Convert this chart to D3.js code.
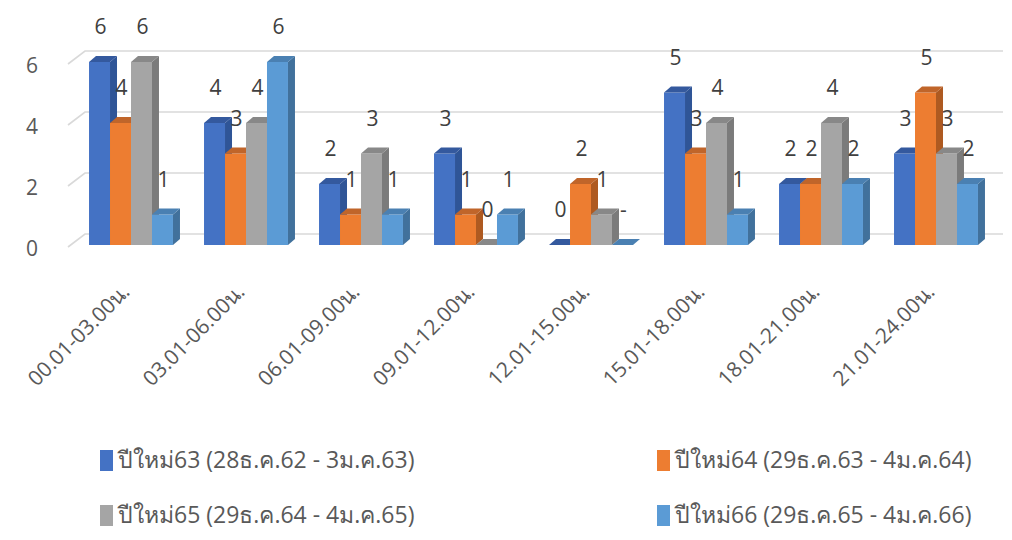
<!DOCTYPE html>
<html>
<head>
<meta charset="utf-8">
<script src="https://cdn.jsdelivr.net/npm/d3@7"></script>
<style>
  html, body { margin: 0; padding: 0; background: #ffffff; }
  svg { display: block; }
  text { font-family: "Open Sans", "Noto Sans", "DejaVu Sans", sans-serif; }
</style>
</head>
<body>
<svg id="chart" width="1012" height="540"></svg>
<script>
// Time-of-day slots
const categories = ["00.01-03.00น.", "03.01-06.00น.", "06.01-09.00น.", "09.01-12.00น.",
                    "12.01-15.00น.", "15.01-18.00น.", "18.01-21.00น.", "21.01-24.00น."];

// Series names (New Year holiday periods)
const seriesNames = ["ปีใหม่63 (28ธ.ค.62 - 3ม.ค.63)", "ปีใหม่64 (29ธ.ค.63 - 4ม.ค.64)",
                     "ปีใหม่65 (29ธ.ค.64 - 4ม.ค.65)", "ปีใหม่66 (29ธ.ค.65 - 4ม.ค.66)"];

// Counts per slot for each period (null = no record, shown as "-")
const year63 = [6, 4, 2, 3, 0, 5, 2, 3];
const year64 = [4, 3, 1, 1, 2, 3, 2, 5];
const year65 = [6, 4, 3, 0, 1, 4, 4, 3];
const year66 = [1, 6, 1, 1, null, 1, 2, 2];

const yTicks = [0, 2, 4, 6];

const seriesValues = [year63, year64, year65, year66];
const frontColors = ["#4472C4", "#ED7D31", "#A5A5A5", "#5B9BD5"];
const sideColors  = ["#2F5597", "#AE5A21", "#7B7B7B", "#41719C"];
const topColors   = ["#34599E", "#C0652A", "#888888", "#4A80B2"];

const svg = d3.select("#chart");

// Front-plane value scale
const y = d3.scaleLinear().domain([0, 6]).range([245, 62]);

// Category bands and bars within a band
const x = d3.scaleBand().domain(categories).range([73.5, 993.5])
  .paddingInner(0.27).paddingOuter(0.135);
const xs = d3.scaleBand().domain(d3.range(seriesNames.length)).range([0, x.bandwidth()]);

// depth of the 3D bars
const dx = 7, dy = -6;
// back wall offset for gridlines
const wallX0 = 68, wallX1 = 85, wallEnd = 1003, wallDy = -11;

// Gridlines on the back wall with a short floor diagonal on the left
const grid = svg.append("g");
yTicks.forEach(t => {
  const yf = y(t);
  grid.append("polyline")
    .attr("points", `${wallX0},${yf + 2} ${wallX1},${yf + wallDy} ${wallEnd},${yf + wallDy}`)
    .attr("fill", "none")
    .attr("stroke", "#d9d9d9")
    .attr("stroke-width", 1.6);
});

// Value axis labels
svg.append("g").selectAll("text").data(yTicks).join("text")
  .attr("x", 32).attr("y", d => y(d) + 10.5)
  .attr("text-anchor", "middle")
  .attr("font-size", 21)
  .attr("fill", "#595959")
  .text(d => d);

// Bars
const bars = svg.append("g");
seriesValues.forEach((vals, si) => {
  vals.forEach((v, ci) => {
    const val = v == null ? 0 : v;
    const x0 = x(categories[ci]) + xs(si);
    const w = xs.bandwidth();
    const yt = y(val), yb = y(0);
    const g = bars.append("g");
    // side face
    g.append("path")
      .attr("d", `M${x0 + w},${yt} L${x0 + w + dx},${yt + dy} L${x0 + w + dx},${yb + dy} L${x0 + w},${yb} Z`)
      .attr("fill", sideColors[si]);
    // front face
    g.append("rect")
      .attr("x", x0).attr("y", yt)
      .attr("width", w).attr("height", yb - yt)
      .attr("fill", frontColors[si]);
    // top face
    g.append("path")
      .attr("d", `M${x0},${yt} L${x0 + dx},${yt + dy} L${x0 + w + dx},${yt + dy} L${x0 + w},${yt} Z`)
      .attr("fill", topColors[si]);
  });
});

// Data labels
const labels = svg.append("g");
seriesValues.forEach((vals, si) => {
  vals.forEach((v, ci) => {
    const val = v == null ? 0 : v;
    const cx = x(categories[ci]) + xs(si) + xs.bandwidth() / 2 + 1;
    labels.append("text")
      .attr("x", cx).attr("y", y(val) - 28)
      .attr("text-anchor", "middle")
      .attr("font-size", 21)
      .attr("fill", "#404040")
      .text(v == null ? "-" : v);
  });
});

// Category labels, rotated
svg.append("g").selectAll("text").data(categories).join("text")
  .attr("transform", d => `translate(${x(d) + x.bandwidth() / 2},${293}) rotate(-45)`)
  .attr("text-anchor", "end")
  .attr("font-size", 21)
  .attr("fill", "#595959")
  .text(d => d);

// Legend
const legendPos = [[100, 460], [657, 460], [100, 515], [657, 515]];
const legend = svg.append("g");
seriesNames.forEach((name, i) => {
  const [lx, ly] = legendPos[i];
  legend.append("rect")
    .attr("x", lx).attr("y", ly - 10)
    .attr("width", 13).attr("height", 21)
    .attr("fill", frontColors[i]);
  legend.append("text")
    .attr("x", lx + 18).attr("y", ly + 8)
    .attr("font-size", 23)
    .attr("fill", "#595959")
    .text(name);
});
</script>
</body>
</html>
